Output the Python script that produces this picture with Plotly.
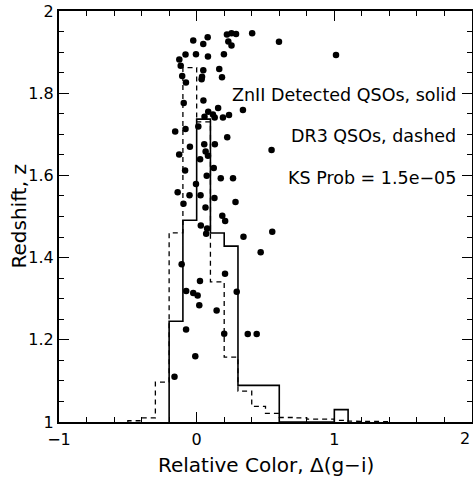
import plotly.graph_objects as go

# Scatter points: relative colour and redshift of ZnII detected QSOs
pt_color = [-0.025, 0.080, 0.048, 0.220, 0.253, 0.286, 0.230, 0.253, 0.403, 0.598,
            1.012, -0.081, -0.005, 0.082, 0.198, -0.126, -0.116, -0.105, -0.078, 0.048,
            0.039, 0.036, 0.164, 0.184, 0.049, -0.094, 0.084, 0.156, 0.336, 0.118,
            0.131, 0.191, 0.235, 0.057, 0.012, -0.156, -0.081, 0.222, -0.049, 0.055,
            0.132, -0.127, 0.065, 0.082, 0.025, 0.544, 0.124, -0.084, 0.073, 0.175,
            0.264, -0.005, -0.138, -0.052, 0.028, 0.129, -0.096, 0.064, 0.282, 0.186,
            0.207, 0.030, 0.076, 0.069, 0.340, 0.549, 0.465, -0.109, 0.206, 0.024,
            -0.076, -0.025, 0.007, 0.291, 0.019, 0.145, -0.077, 0.200, 0.371, 0.436,
            -0.010, -0.161]
pt_z = [1.928, 1.936, 1.920, 1.943, 1.946, 1.944, 1.926, 1.916, 1.946, 1.925,
        1.893, 1.894, 1.895, 1.889, 1.895, 1.882, 1.867, 1.842, 1.826, 1.856,
        1.840, 1.834, 1.859, 1.839, 1.782, 1.776, 1.755, 1.764, 1.759, 1.748,
        1.741, 1.741, 1.747, 1.743, 1.719, 1.707, 1.713, 1.693, 1.670, 1.676,
        1.676, 1.651, 1.658, 1.648, 1.639, 1.662, 1.618, 1.612, 1.599, 1.593,
        1.593, 1.579, 1.559, 1.552, 1.552, 1.545, 1.531, 1.522, 1.535, 1.502,
        1.489, 1.478, 1.471, 1.458, 1.451, 1.463, 1.413, 1.384, 1.361, 1.343,
        1.319, 1.314, 1.308, 1.317, 1.284, 1.271, 1.225, 1.215, 1.214, 1.214,
        1.160, 1.110]

# Solid histogram (ZnII detected QSOs): bin edges and bar tops (drawn on z axis, base 1)
solid_edges = [-0.2, -0.1, 0.0, 0.1, 0.2, 0.3, 0.6, 1.0, 1.1]
solid_tops = [1.245, 1.491, 1.737, 1.460, 1.428, 1.089, 1.0, 1.030]

# Dashed histogram (DR3 QSOs)
dashed_edges = [-0.5, -0.4, -0.3, -0.2, -0.1, 0.0, 0.1, 0.2, 0.3, 0.4, 0.5, 0.6,
                0.7, 0.8, 0.9, 1.0, 1.1, 1.2, 1.3, 1.4]
dashed_tops = [1.003, 1.010, 1.097, 1.460, 1.862, 1.730, 1.341, 1.158, 1.075, 1.038,
               1.021, 1.011, 1.010, 1.007, 1.007, 1.004, 1.002, 1.002, 1.001]

x_ticks = [-1, 0, 1, 2]
x_tick_text = ["\u22121", "0", "1", ""]   # last label drawn separately so it stays inside the page
x_last_label = "2"
y_ticks = [1, 1.2, 1.4, 1.6, 1.8, 2]

base = 1.0


def steps(edges, tops):
    xs = [edges[0]]
    ys = [base]
    for i, t in enumerate(tops):
        xs += [edges[i], edges[i + 1]]
        ys += [t, t]
    xs.append(edges[-1])
    ys.append(base)
    return xs, ys


fig = go.Figure()

dx, dy = steps(dashed_edges, dashed_tops)
fig.add_trace(go.Scatter(x=dx, y=dy, mode="lines",
                         line=dict(color="black", width=1.3, dash="5px,4px"),
                         hoverinfo="skip"))

sx, sy = steps(solid_edges, solid_tops)
fig.add_trace(go.Scatter(x=sx, y=sy, mode="lines",
                         line=dict(color="black", width=1.6),
                         hoverinfo="skip"))

fig.add_trace(go.Scatter(x=pt_color, y=pt_z, mode="markers",
                         marker=dict(color="black", size=6.5)))

font_family = "DejaVu Sans, Verdana, sans-serif"

annots = [("ZnII Detected QSOs, solid", 1.795),
          ("DR3 QSOs, dashed", 1.696),
          ("KS Prob = 1.5e\u221205", 1.593)]
for txt, yv in annots:
    fig.add_annotation(x=1.9, y=yv, xref="x", yref="y", text=txt, showarrow=False,
                       xanchor="right", yanchor="middle",
                       font=dict(family=font_family, size=17.5, color="black"))

# last x tick label, kept inside the page edge
fig.add_annotation(x=x_ticks[-1], y=0, xref="x", yref="paper", yshift=-16,
                   text=x_last_label, showarrow=False, xanchor="right", yanchor="middle",
                   font=dict(family=font_family, size=16, color="black"))

# axis titles
fig.add_annotation(x=0.5, y=0, xref="paper", yref="paper", yshift=-43,
                   text="Relative Color, \u0394(g\u2212i)", showarrow=False,
                   xanchor="center", yanchor="middle",
                   font=dict(family=font_family, size=20, color="black"))
fig.add_annotation(x=0, y=0.5, xref="paper", yref="paper", xshift=-41,
                   text="Redshift, z", showarrow=False, textangle=-90,
                   xanchor="center", yanchor="middle",
                   font=dict(family=font_family, size=20, color="black"))

axis_common = dict(showgrid=False, zeroline=False, showline=True, linecolor="black",
                   linewidth=2, mirror="ticks", ticks="inside", tickcolor="black",
                   tickwidth=1, ticklen=10, automargin=False, ticklabeloverflow="allow",
                   tickfont=dict(family=font_family, size=16, color="black"))

fig.update_xaxes(range=[-1, 2], tickvals=x_ticks, ticktext=x_tick_text, ticklabelstandoff=2,
                 minor=dict(dtick=0.2, ticks="inside", ticklen=5, tickcolor="black", tickwidth=1),
                 **axis_common)
fig.update_yaxes(range=[1, 2], tickvals=y_ticks,
                 minor=dict(dtick=0.05, ticks="inside", ticklen=5, tickcolor="black", tickwidth=1),
                 **axis_common)

fig.update_layout(width=473, height=477, showlegend=False,
                  margin=dict(l=59, r=1, t=11, b=55),
                  plot_bgcolor="white", paper_bgcolor="white")

fig.write_html("out.html", config={"displayModeBar": False},
               post_script="document.body.style.margin='0';")
